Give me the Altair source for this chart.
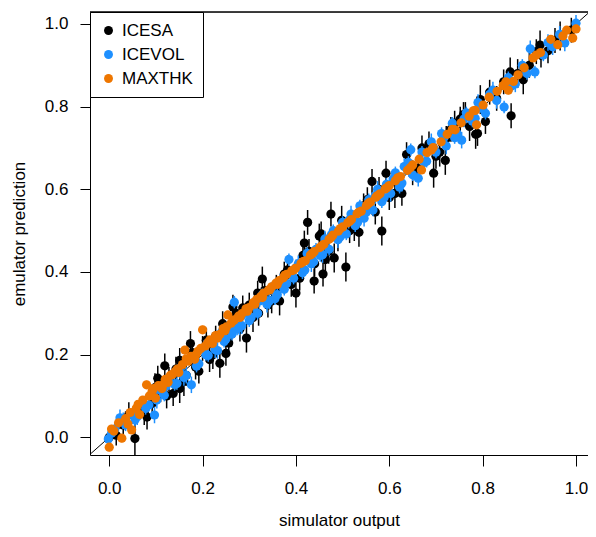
import altair as alt
import pandas as pd

series_names = ["ICESA", "ICEVOL", "MAXTHK"]
series_colors = ["#000000", "#1E90FF", "#EE7600"]

# ICESA (black)
icesa_x = [0.000, 0.055, 0.030, 0.081, 0.068, 0.092, 0.104, 0.119, 0.110, 0.137,
           0.151, 0.128, 0.151, 0.174, 0.165, 0.185, 0.200, 0.215, 0.237, 0.250,
           0.228, 0.265, 0.262, 0.280, 0.294, 0.300, 0.286, 0.318, 0.320, 0.328,
           0.340, 0.358, 0.365, 0.375, 0.390, 0.400, 0.415, 0.418, 0.425, 0.439,
           0.440, 0.450, 0.454, 0.458, 0.470, 0.475, 0.482, 0.490, 0.507, 0.515,
           0.535, 0.545, 0.563, 0.570, 0.584, 0.593, 0.600, 0.627, 0.637, 0.650,
           0.670, 0.695, 0.700, 0.720, 0.722, 0.740, 0.759, 0.763, 0.785, 0.789,
           0.795, 0.806, 0.830, 0.859, 0.861, 0.887, 0.900, 0.915, 0.923, 0.925,
           0.966, 0.990,
           0.015, 0.042, 0.075, 0.098, 0.123, 0.143, 0.160, 0.178, 0.192, 0.208,
           0.222, 0.243, 0.256, 0.272, 0.308, 0.333, 0.348, 0.382, 0.408, 0.428,
           0.463, 0.498, 0.525, 0.553, 0.578, 0.612, 0.643, 0.662, 0.685, 0.708,
           0.732, 0.752, 0.772, 0.815, 0.845, 0.875, 0.940, 0.955]
icesa_y = [0.000, -0.003, 0.030, 0.049, 0.072, 0.082, 0.143, 0.173, 0.110, 0.106,
           0.118, 0.140, 0.186, 0.227, 0.150, 0.170, 0.215, 0.188, 0.179, 0.203,
           0.245, 0.315, 0.250, 0.262, 0.240, 0.320, 0.313, 0.349, 0.300, 0.383,
           0.320, 0.363, 0.330, 0.395, 0.370, 0.349, 0.440, 0.470, 0.520, 0.378,
           0.420, 0.487, 0.492, 0.395, 0.450, 0.540, 0.434, 0.480, 0.412, 0.500,
           0.496, 0.560, 0.619, 0.545, 0.499, 0.639, 0.580, 0.590, 0.684, 0.640,
           0.700, 0.639, 0.680, 0.670, 0.723, 0.760, 0.781, 0.781, 0.733, 0.735,
           0.817, 0.764, 0.820, 0.884, 0.778, 0.865, 0.900, 0.933, 0.949, 0.925,
           0.971, 0.985,
           0.005, 0.055, 0.060, 0.120, 0.100, 0.165, 0.135, 0.205, 0.160, 0.235,
           0.200, 0.275, 0.228, 0.300, 0.290, 0.355, 0.330, 0.405, 0.385, 0.450,
           0.430, 0.525, 0.505, 0.575, 0.600, 0.590, 0.660, 0.650, 0.710, 0.690,
           0.745, 0.770, 0.752, 0.835, 0.860, 0.880, 0.935, 0.960]
icesa_err = [0.020, 0.040, 0.025, 0.030, 0.025, 0.030, 0.030, 0.030, 0.025, 0.030,
             0.035, 0.030, 0.030, 0.030, 0.025, 0.030, 0.030, 0.030, 0.035, 0.030,
             0.025, 0.030, 0.030, 0.030, 0.035, 0.030, 0.030, 0.030, 0.030, 0.030,
             0.030, 0.030, 0.035, 0.030, 0.030, 0.035, 0.030, 0.030, 0.030, 0.030,
             0.030, 0.030, 0.030, 0.030, 0.030, 0.030, 0.035, 0.030, 0.035, 0.030,
             0.035, 0.030, 0.030, 0.030, 0.035, 0.030, 0.030, 0.030, 0.030, 0.030,
             0.030, 0.035, 0.030, 0.035, 0.030, 0.030, 0.030, 0.030, 0.035, 0.030,
             0.035, 0.030, 0.030, 0.035, 0.030, 0.035, 0.030, 0.030, 0.035, 0.030,
             0.035, 0.030,
             0.025, 0.030, 0.030, 0.035, 0.030, 0.030, 0.035, 0.030, 0.030, 0.030,
             0.035, 0.030, 0.030, 0.030, 0.035, 0.030, 0.030, 0.035, 0.030, 0.030,
             0.030, 0.035, 0.030, 0.030, 0.030, 0.035, 0.030, 0.030, 0.030, 0.035,
             0.030, 0.030, 0.035, 0.030, 0.030, 0.035, 0.030, 0.030]

# ICEVOL (blue)
icevol_x = [-0.002, 0.012, 0.023, 0.035, 0.048, 0.060, 0.072, 0.085, 0.097, 0.108,
            0.118, 0.128, 0.140, 0.150, 0.160, 0.176, 0.182, 0.192, 0.203, 0.212,
            0.222, 0.232, 0.241, 0.250, 0.259, 0.268, 0.274, 0.279, 0.290, 0.300,
            0.310, 0.318, 0.328, 0.338, 0.347, 0.355, 0.366, 0.375, 0.385, 0.395,
            0.405, 0.414, 0.424, 0.433, 0.443, 0.452, 0.462, 0.471, 0.480, 0.490,
            0.500, 0.508, 0.518, 0.527, 0.537, 0.546, 0.556, 0.565, 0.575, 0.584,
            0.594, 0.603, 0.613, 0.622, 0.632, 0.646, 0.650, 0.662, 0.670, 0.680,
            0.690, 0.700, 0.712, 0.722, 0.735, 0.745, 0.755, 0.765, 0.778, 0.790,
            0.806, 0.815, 0.830, 0.846, 0.855, 0.870, 0.885, 0.902, 0.912, 0.930,
            0.950, 0.976, 1.000,
            0.005, 0.030, 0.055, 0.078, 0.102, 0.122, 0.145, 0.165, 0.187, 0.207,
            0.227, 0.246, 0.263, 0.284, 0.304, 0.322, 0.343, 0.360, 0.380, 0.400,
            0.419, 0.438, 0.457, 0.476, 0.495, 0.513, 0.532, 0.551, 0.570, 0.589,
            0.608, 0.627, 0.641, 0.675, 0.695, 0.717, 0.740, 0.760, 0.784, 0.800,
            0.822, 0.862, 0.895, 0.940, 0.965]
icevol_y = [-0.004, 0.020, 0.047, 0.030, 0.055, 0.050, 0.085, 0.078, 0.054, 0.115,
            0.102, 0.135, 0.128, 0.160, 0.145, 0.127, 0.190, 0.178, 0.215, 0.198,
            0.232, 0.210, 0.255, 0.238, 0.270, 0.327, 0.262, 0.267, 0.300, 0.282,
            0.318, 0.300, 0.345, 0.322, 0.360, 0.335, 0.375, 0.358, 0.430, 0.385,
            0.420, 0.398, 0.445, 0.420, 0.455, 0.440, 0.480, 0.455, 0.500, 0.478,
            0.520, 0.492, 0.540, 0.512, 0.560, 0.530, 0.575, 0.550, 0.600, 0.570,
            0.612, 0.590, 0.640, 0.605, 0.655, 0.696, 0.635, 0.627, 0.690, 0.668,
            0.715, 0.690, 0.735, 0.705, 0.760, 0.735, 0.719, 0.785, 0.765, 0.810,
            0.784, 0.830, 0.815, 0.799, 0.870, 0.855, 0.900, 0.940, 0.884, 0.925,
            0.945, 0.954, 1.002,
            0.010, 0.040, 0.042, 0.070, 0.090, 0.125, 0.130, 0.150, 0.172, 0.200,
            0.212, 0.232, 0.250, 0.270, 0.290, 0.330, 0.330, 0.345, 0.372, 0.410,
            0.405, 0.425, 0.442, 0.490, 0.485, 0.525, 0.520, 0.545, 0.585, 0.580,
            0.625, 0.615, 0.665, 0.665, 0.700, 0.725, 0.725, 0.770, 0.772, 0.795,
            0.840, 0.850, 0.880, 0.955, 0.975]
icevol_err = [0.015, 0.015, 0.020, 0.015, 0.015, 0.020, 0.015, 0.015, 0.020, 0.015,
              0.015, 0.020, 0.015, 0.015, 0.020, 0.020, 0.015, 0.015, 0.020, 0.015,
              0.015, 0.020, 0.015, 0.015, 0.020, 0.015, 0.015, 0.020, 0.015, 0.015,
              0.020, 0.015, 0.015, 0.020, 0.015, 0.015, 0.020, 0.015, 0.015, 0.015,
              0.020, 0.015, 0.015, 0.020, 0.015, 0.015, 0.020, 0.015, 0.015, 0.020,
              0.015, 0.015, 0.020, 0.015, 0.015, 0.020, 0.015, 0.015, 0.020, 0.015,
              0.015, 0.020, 0.015, 0.015, 0.020, 0.015, 0.015, 0.020, 0.015, 0.015,
              0.020, 0.015, 0.015, 0.020, 0.015, 0.015, 0.020, 0.015, 0.015, 0.020,
              0.015, 0.015, 0.020, 0.015, 0.015, 0.020, 0.015, 0.020, 0.015, 0.015,
              0.020, 0.020, 0.020,
              0.015, 0.020, 0.015, 0.015, 0.020, 0.015, 0.015, 0.020, 0.015, 0.015,
              0.020, 0.015, 0.015, 0.020, 0.015, 0.015, 0.020, 0.015, 0.015, 0.020,
              0.015, 0.015, 0.020, 0.015, 0.015, 0.020, 0.015, 0.015, 0.020, 0.015,
              0.015, 0.020, 0.015, 0.015, 0.020, 0.015, 0.015, 0.020, 0.015, 0.015,
              0.020, 0.015, 0.015, 0.020, 0.020]

# MAXTHK (orange)
maxthk_x = [0.000, 0.010, 0.027, 0.020, 0.035, 0.048, 0.045, 0.058, 0.065, 0.072,
            0.080, 0.086, 0.092, 0.099, 0.105, 0.113, 0.120, 0.126, 0.135, 0.142,
            0.149, 0.157, 0.162, 0.169, 0.175, 0.183, 0.190, 0.200, 0.206, 0.211,
            0.221, 0.228, 0.237, 0.244, 0.254, 0.251, 0.261, 0.268, 0.277, 0.284,
            0.293, 0.300, 0.309, 0.316, 0.325, 0.331, 0.341, 0.348, 0.357, 0.364,
            0.373, 0.380, 0.391, 0.399, 0.411, 0.420, 0.431, 0.439, 0.451, 0.460,
            0.471, 0.479, 0.491, 0.500, 0.511, 0.519, 0.531, 0.540, 0.551, 0.559,
            0.571, 0.580, 0.591, 0.600, 0.613, 0.624, 0.639, 0.650, 0.669, 0.664,
            0.681, 0.694, 0.711, 0.724, 0.741, 0.754, 0.771, 0.787, 0.784, 0.801,
            0.814, 0.831, 0.844, 0.855, 0.866, 0.876, 0.889, 0.908, 0.924, 0.946,
            0.961, 0.972, 0.993, 1.000,
            0.005, 0.040, 0.062, 0.095, 0.116, 0.131, 0.146, 0.165, 0.186, 0.196,
            0.216, 0.232, 0.248, 0.265, 0.280, 0.296, 0.312, 0.328, 0.344, 0.360,
            0.376, 0.395, 0.415, 0.435, 0.455, 0.475, 0.495, 0.515, 0.535, 0.555,
            0.575, 0.595, 0.618, 0.645, 0.690, 0.735, 0.780, 0.850, 0.915, 0.980]
maxthk_y = [-0.024, 0.015, -0.002, 0.035, 0.045, 0.018, 0.060, 0.070, 0.055, 0.090,
            0.127, 0.100, 0.112, 0.095, 0.125, 0.118, 0.140, 0.133, 0.152, 0.160,
            0.157, 0.176, 0.211, 0.184, 0.196, 0.189, 0.208, 0.260, 0.221, 0.229,
            0.227, 0.246, 0.249, 0.263, 0.296, 0.267, 0.276, 0.284, 0.293, 0.299,
            0.311, 0.314, 0.326, 0.334, 0.341, 0.349, 0.356, 0.364, 0.373, 0.379,
            0.386, 0.394, 0.403, 0.409, 0.421, 0.427, 0.441, 0.449, 0.459, 0.467,
            0.479, 0.489, 0.499, 0.509, 0.519, 0.527, 0.541, 0.547, 0.561, 0.569,
            0.581, 0.589, 0.601, 0.609, 0.621, 0.631, 0.646, 0.659, 0.647, 0.673,
            0.689, 0.701, 0.715, 0.733, 0.744, 0.761, 0.777, 0.756, 0.791, 0.804,
            0.823, 0.837, 0.851, 0.840, 0.861, 0.877, 0.894, 0.918, 0.931, 0.963,
            0.950, 0.971, 0.966, 0.988,
            0.020, 0.032, 0.080, 0.118, 0.128, 0.150, 0.165, 0.190, 0.200, 0.215,
            0.236, 0.240, 0.258, 0.282, 0.290, 0.305, 0.322, 0.338, 0.357, 0.370,
            0.392, 0.405, 0.425, 0.445, 0.463, 0.483, 0.505, 0.523, 0.545, 0.566,
            0.585, 0.604, 0.628, 0.652, 0.695, 0.745, 0.790, 0.860, 0.925, 0.985]
maxthk_err = [0.010, 0.010, 0.010, 0.008, 0.008, 0.010, 0.008, 0.008, 0.010, 0.008,
              0.010, 0.008, 0.008, 0.010, 0.008, 0.008, 0.010, 0.008, 0.008, 0.010,
              0.008, 0.008, 0.010, 0.008, 0.008, 0.010, 0.008, 0.010, 0.008, 0.008,
              0.010, 0.008, 0.008, 0.010, 0.010, 0.008, 0.008, 0.010, 0.008, 0.008,
              0.010, 0.008, 0.008, 0.010, 0.008, 0.008, 0.010, 0.008, 0.008, 0.010,
              0.008, 0.008, 0.010, 0.008, 0.008, 0.010, 0.008, 0.008, 0.010, 0.008,
              0.008, 0.010, 0.008, 0.008, 0.010, 0.008, 0.008, 0.010, 0.008, 0.008,
              0.010, 0.008, 0.008, 0.010, 0.008, 0.008, 0.010, 0.008, 0.010, 0.008,
              0.008, 0.010, 0.008, 0.008, 0.010, 0.008, 0.008, 0.010, 0.008, 0.008,
              0.010, 0.008, 0.008, 0.010, 0.008, 0.008, 0.010, 0.008, 0.008, 0.010,
              0.008, 0.008, 0.010, 0.010,
              0.010, 0.008, 0.008, 0.010, 0.008, 0.008, 0.010, 0.008, 0.008, 0.010,
              0.008, 0.008, 0.010, 0.008, 0.008, 0.010, 0.008, 0.008, 0.010, 0.008,
              0.008, 0.010, 0.008, 0.008, 0.010, 0.008, 0.008, 0.010, 0.008, 0.008,
              0.010, 0.008, 0.008, 0.010, 0.008, 0.008, 0.010, 0.008, 0.008, 0.010]

x_ticks = [0.0, 0.2, 0.4, 0.6, 0.8, 1.0]
y_ticks = [0.0, 0.2, 0.4, 0.6, 0.8, 1.0]

rows = []
for name, xs, ys, es in [("ICESA", icesa_x, icesa_y, icesa_err),
                         ("ICEVOL", icevol_x, icevol_y, icevol_err),
                         ("MAXTHK", maxthk_x, maxthk_y, maxthk_err)]:
    for x, y, e in zip(xs, ys, es):
        rows.append({"series": name, "sim": x, "emu": y, "lo": y - e, "hi": y + e})
df = pd.DataFrame(rows)

diag = pd.DataFrame({"sim": [-0.2, 1.2], "emu": [-0.2, 1.2]})

FONT = "Liberation Sans"
xscale = alt.Scale(domain=[-0.0412, 1.0257], nice=False, zero=False)
yscale = alt.Scale(domain=[-0.0428, 1.0290], nice=False, zero=False)

xaxis = alt.Axis(values=x_ticks, format=".1f", title="simulator output", grid=False,
                 tickSize=11, tickColor="black", domainColor="black", tickWidth=1,
                 labelFontSize=17, labelPadding=14, labelColor="black", labelFont=FONT,
                 titleFontSize=17, titleFont=FONT, titleFontWeight="normal",
                 titleColor="black", titlePadding=16)
yaxis = alt.Axis(values=y_ticks, format=".1f", title="emulator prediction", grid=False,
                 tickSize=10, tickColor="black", domainColor="black", tickWidth=1,
                 labelFontSize=17, labelPadding=12, labelColor="black", labelFont=FONT,
                 titleFontSize=17, titleFont=FONT, titleFontWeight="normal",
                 titleColor="black", titlePadding=16)

color_enc = alt.Color("series:N",
                      scale=alt.Scale(domain=series_names, range=series_colors),
                      legend=alt.Legend(title=None, orient="none", legendX=0, legendY=0,
                                        padding=10, strokeColor="black", fillColor="white",
                                        labelFontSize=17, labelFont=FONT, labelColor="black",
                                        symbolSize=80, symbolType="circle",
                                        symbolStrokeWidth=0, rowPadding=6, labelOffset=5,
                                        cornerRadius=0))

base = alt.Chart(df)
layers = []
layers.append(alt.Chart(diag).mark_line(color="black", strokeWidth=1, clip=True).encode(
    x=alt.X("sim:Q", scale=xscale, axis=xaxis),
    y=alt.Y("emu:Q", scale=yscale, axis=yaxis)))
for name, col in zip(series_names, series_colors):
    sub = base.transform_filter(alt.datum.series == name)
    layers.append(sub.mark_rule(color=col, strokeWidth=1.5, clip=True).encode(
        x=alt.X("sim:Q", scale=xscale), y=alt.Y("lo:Q", scale=yscale), y2="hi:Q"))
    layers.append(sub.mark_circle(size=85, opacity=1, clip=True).encode(
        x=alt.X("sim:Q", scale=xscale), y=alt.Y("emu:Q", scale=yscale), color=color_enc))

top_line = alt.Chart(diag).mark_rule(color="black", strokeWidth=1).encode(
    x=alt.value(0), x2=alt.value(498), y=alt.value(0))
layers.append(top_line)

chart = alt.layer(*layers).properties(
    width=498, height=443,
    autosize=alt.AutoSizeParams(type="none"),
    padding={"left": 82, "top": 4, "right": 0, "bottom": 74},
).configure_view(stroke=None).configure(background="white")

chart.save("out.html", embed_options={"renderer": "svg", "actions": False})
